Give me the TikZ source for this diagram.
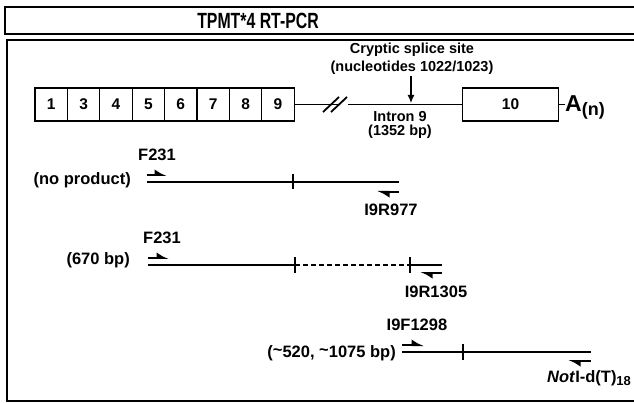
\documentclass[tikz,border=0pt]{standalone}
\usepackage{fontspec}
\setmainfont{Liberation Sans}
\usepackage{graphicx}
\usetikzlibrary{arrows.meta,positioning}

\begin{document}
\begin{tikzpicture}[x=1pt,y=-1pt,
  lbl/.style={font=\bfseries\fontsize{16.5}{18}\selectfont,inner sep=1pt},
  exon/.style={draw,line width=1.2pt,minimum width=32.4pt,minimum height=33pt,inner sep=0pt,font=\bfseries\fontsize{15.5}{17}\selectfont},
  gene/.style={line width=1.5pt},
  tickmark/.style={line width=1.5pt},
  fwd/.style={line width=2.2pt,-{Latex[harpoon,length=10pt,width=12pt]}},
  rev/.style={line width=2.2pt,-{Latex[harpoon,length=10pt,width=12pt]}}]
  \useasboundingbox (0,0) rectangle (634,403);
  \draw[line width=2pt] (5,7) rectangle (660,34);
  \draw[line width=2pt] (7,40) rectangle (660,401);
  \node[font=\bfseries\fontsize{22}{22}\selectfont] (title) at (258,20.5) {\scalebox{0.72}[1]{TPMT*4 RT-PCR}};
  % gene map
  \foreach \lab [count=\i] in {1,3,4,5,6,7,8,9}
    \node[exon] (ex\i) at ({35+32.4*\i-16.2},104.5) {\lab};
  \node[exon,minimum width=96pt] (ex10) at (510.5,104.5) {10};
  \coordinate (brk1) at (338,104.5);
  \coordinate (brk2) at (348,104.5);
  \coordinate (polya) at (565,104.5);
  \draw[gene] (ex8.east) -- (brk1);
  \draw[gene] (brk2) -- (ex10.west);
  \draw[gene] (ex10.east) -- (polya);
  \draw[line width=1.8pt] (323,112) -- (339,97) (331,112) -- (347,97);
  \node[anchor=base west,inner sep=0pt,font=\bfseries] (tail) at (polya |- 0,112)
    {\fontsize{23}{23}\selectfont A\raisebox{-4pt}{\fontsize{18}{18}\selectfont(n)}};
  \node[lbl,font=\bfseries\fontsize{14.5}{18}\selectfont,align=center] (cryp) at (412,59)
    {Cryptic splice site\\(nucleotides 1022/1023)};
  \coordinate (site) at (411,103);
  \draw[line width=1.3pt,-{Latex[length=8pt,width=7pt]}] (cryp.south -| site) -- (site);
  \node[lbl,font=\bfseries\fontsize{14.5}{14}\selectfont,align=center] (intron) at (400,125)
    {Intron 9\\(1352 bp)};
  % no product
  \node[lbl,anchor=east] (np) at (132,180) {(no product)};
  \coordinate (r1a) at (147,182);
  \coordinate (r1b) at (399,182);
  \draw[gene] (r1a) -- (r1b);
  \draw[tickmark] (293,174) -- (293,189);
  \node[lbl] (f231a) at (157,155) {F231};
  \coordinate (p1a) at (147,175);
  \coordinate (p1b) at (167,175);
  \draw[fwd] (p1a) -- (p1b);
  \coordinate (q1a) at (399,192);
  \coordinate (q1b) at (377,192);
  \draw[rev] (q1a) -- (q1b);
  \node[lbl] (i9r977) at (391,210) {I9R977};
  % 670 bp
  \node[lbl,anchor=east] (bp670) at (131,260) {(670 bp)};
  \coordinate (r2a) at (148,265);
  \coordinate (r2b) at (295,265);
  \coordinate (r2c) at (410,265);
  \coordinate (r2d) at (442,265);
  \draw[gene] (r2a) -- (r2b);
  \draw[gene,dashed,dash pattern=on 5pt off 3pt] (r2b) -- (r2c);
  \draw[gene] (r2c) -- (r2d);
  \draw[tickmark] (295,257) -- (295,273);
  \draw[tickmark] (410,257) -- (410,273);
  \node[lbl] (f231b) at (162,238) {F231};
  \coordinate (p2a) at (148,258);
  \coordinate (p2b) at (169,258);
  \draw[fwd] (p2a) -- (p2b);
  \coordinate (q2a) at (442,273);
  \coordinate (q2b) at (420,273);
  \draw[rev] (q2a) -- (q2b);
  \node[lbl] (i9r1305) at (436,292) {I9R1305};
  % 3' RACE
  \node[lbl,anchor=east] (bp520) at (397,353) {({\raisebox{0.2ex}{\char`\~}}520, {\raisebox{0.2ex}{\char`\~}}1075 bp)};
  \coordinate (r3a) at (402,352);
  \coordinate (r3b) at (591,352);
  \draw[gene] (r3a) -- (r3b);
  \draw[tickmark] (463,344) -- (463,360);
  \node[lbl] (i9f1298) at (417,325) {I9F1298};
  \coordinate (p3a) at (402,345);
  \coordinate (p3b) at (424,345);
  \draw[fwd] (p3a) -- (p3b);
  \coordinate (q3a) at (591,361);
  \coordinate (q3b) at (568,361);
  \draw[rev] (q3a) -- (q3b);
  \node[lbl,anchor=west] (noti) at (546,378) {\textit{Not}I-d(T)\raisebox{-3pt}{\fontsize{13}{13}\selectfont 18}};
\end{tikzpicture}
\end{document}
